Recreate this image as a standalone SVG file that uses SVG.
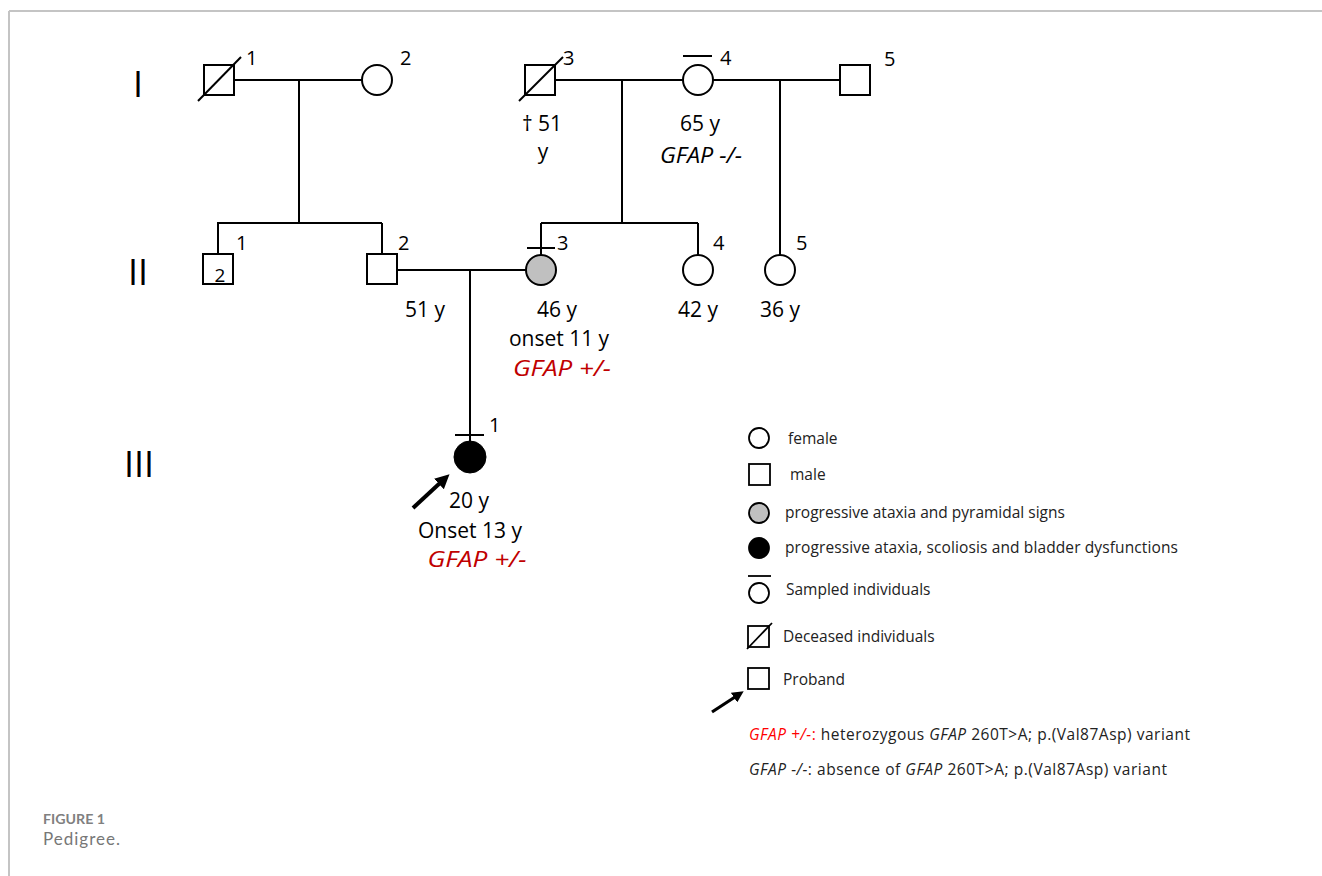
<svg xmlns="http://www.w3.org/2000/svg" width="1322" height="876" viewBox="0 0 1322 876">
<style>
  .ln{stroke:#000;stroke-width:2;fill:none}
  .sym{stroke:#000;stroke-width:2;fill:#fff}
  .t{font-family:"Open Sans","Noto Sans","Liberation Sans",sans-serif;fill:#000}
  .ped{font-size:21px;text-anchor:middle}
  .num{font-size:20px}
  .gen{font-size:36px;text-anchor:middle}
  .leg{font-size:15.5px;fill:#222}
  .it{font-style:italic}
  .red{fill:#c00000}
  .lred{fill:#ff0000}
</style>
<defs>
  <marker id="ah" viewBox="0 0 10 10" refX="1" refY="5" markerWidth="3.6" markerHeight="3.6" orient="auto" markerUnits="strokeWidth">
    <path d="M0,0 L10,5 L0,10 z" fill="#000"/>
  </marker>
</defs>
<rect x="0" y="0" width="1322" height="876" fill="#fff"/>
<g id="frame">
  <line x1="9" y1="11" x2="1322" y2="11" stroke="#c4c4c4" stroke-width="2"/>
  <line x1="9" y1="11" x2="9" y2="876" stroke="#c4c4c4" stroke-width="2"/>
</g>

<g id="generation-labels" class="t">
  <text class="t gen" x="138" y="97">I</text>
  <text class="t gen" x="138" y="285">II</text>
  <text class="t gen" x="139" y="477">III</text>
</g>

<g id="connectors">
  <path class="ln" d="M234,80 H362"/>
  <path class="ln" d="M299,80 V223"/>
  <path class="ln" d="M217,223 H382 M218,223 V254 M382,223 V254"/>
  <path class="ln" d="M555,80 H683"/>
  <path class="ln" d="M622,80 V223"/>
  <path class="ln" d="M541,223 H698 M541,223 V255 M698,223 V255"/>
  <path class="ln" d="M713,80 H840"/>
  <path class="ln" d="M780,80 V255"/>
  <path class="ln" d="M397,270 H526"/>
  <path class="ln" d="M470,270 V441"/>
</g>

<g id="I-1">
  <rect class="sym" x="204" y="65" width="30" height="30"/>
  <line class="ln" x1="198" y1="101" x2="241" y2="57"/>
  <text class="t num" x="246" y="65">1</text>
</g>
<g id="I-2">
  <circle class="sym" cx="377" cy="80" r="15"/>
  <text class="t num" x="400" y="65">2</text>
</g>
<g id="I-3">
  <rect class="sym" x="525" y="65" width="30" height="30"/>
  <line class="ln" x1="519" y1="101" x2="563" y2="57"/>
  <text class="t num" x="563" y="65">3</text>
  <text class="t ped" x="542" y="131">† 51</text>
  <text class="t ped" x="543" y="159">y</text>
</g>
<g id="I-4">
  <circle class="sym" cx="698" cy="80" r="15"/>
  <line class="ln" x1="683" y1="56" x2="712" y2="56"/>
  <text class="t num" x="720" y="65">4</text>
  <text class="t ped" x="700" y="131">65 y</text>
  <text class="t ped it" x="701" y="163" textLength="82" lengthAdjust="spacingAndGlyphs">GFAP -/-</text>
</g>
<g id="I-5">
  <rect class="sym" x="840" y="65" width="30" height="30"/>
  <text class="t num" x="884" y="66">5</text>
</g>

<g id="II-1">
  <rect class="sym" x="203" y="254" width="30" height="30"/>
  <text class="t" x="220" y="282" font-size="19" text-anchor="middle">2</text>
  <text class="t num" x="236" y="250">1</text>
</g>
<g id="II-2">
  <rect class="sym" x="367" y="254" width="30" height="30"/>
  <text class="t num" x="398" y="250">2</text>
  <text class="t ped" x="425" y="317">51 y</text>
</g>
<g id="II-3">
  <circle class="sym" cx="541" cy="270" r="15" style="fill:#c0c0c0"/>
  <line class="ln" x1="527" y1="248" x2="555" y2="248"/>
  <text class="t num" x="557" y="250">3</text>
  <text class="t ped" x="557" y="317">46 y</text>
  <text class="t ped" x="559" y="346">onset 11 y</text>
  <text class="t ped it red" x="562" y="376" textLength="98" lengthAdjust="spacingAndGlyphs">GFAP +/-</text>
</g>
<g id="II-4">
  <circle class="sym" cx="698" cy="270" r="15"/>
  <text class="t num" x="713" y="250">4</text>
  <text class="t ped" x="698" y="317">42 y</text>
</g>
<g id="II-5">
  <circle class="sym" cx="780" cy="270" r="15"/>
  <text class="t num" x="796" y="250">5</text>
  <text class="t ped" x="780" y="317">36 y</text>
</g>

<g id="III-1">
  <circle cx="470" cy="457" r="16" fill="#000" stroke="#000" stroke-width="1"/>
  <line class="ln" x1="455" y1="435" x2="484" y2="435"/>
  <text class="t num" x="489" y="432">1</text>
  <line x1="413" y1="508" x2="440" y2="483" stroke="#000" stroke-width="4" marker-end="url(#ah)"/>
  <text class="t ped" x="469" y="508">20 y</text>
  <text class="t ped" x="470" y="538">Onset 13 y</text>
  <text class="t ped it red" x="477" y="567" textLength="99" lengthAdjust="spacingAndGlyphs">GFAP +/-</text>
</g>

<g id="legend">
  <circle cx="759" cy="438" r="10" fill="#fff" stroke="#000" stroke-width="1.8"/>
  <text class="t leg" x="788" y="444">female</text>

  <rect x="749" y="464" width="21" height="21" fill="#fff" stroke="#000" stroke-width="1.8"/>
  <text class="t leg" x="790" y="480">male</text>

  <circle cx="759" cy="513" r="10" fill="#c0c0c0" stroke="#000" stroke-width="1.8"/>
  <text class="t leg" x="785" y="518">progressive ataxia and pyramidal signs</text>

  <circle cx="759" cy="548" r="10" fill="#000" stroke="#000" stroke-width="1.8"/>
  <text class="t leg" x="785" y="553" textLength="393">progressive ataxia, scoliosis and bladder dysfunctions</text>

  <line x1="748" y1="576" x2="771" y2="576" stroke="#000" stroke-width="1.8"/>
  <circle cx="759" cy="593" r="10" fill="#fff" stroke="#000" stroke-width="1.8"/>
  <text class="t leg" x="786" y="595">Sampled individuals</text>

  <rect x="748" y="626" width="21" height="21" fill="#fff" stroke="#000" stroke-width="1.8"/>
  <line x1="747" y1="649" x2="772" y2="623" stroke="#000" stroke-width="1.8"/>
  <text class="t leg" x="783" y="642">Deceased individuals</text>

  <rect x="748" y="668" width="21" height="21" fill="#fff" stroke="#000" stroke-width="1.8"/>
  <line x1="712" y1="712" x2="735" y2="697" stroke="#000" stroke-width="3.2" marker-end="url(#ah)"/>
  <text class="t leg" x="783" y="685">Proband</text>

  <text class="t leg" x="749" y="740" textLength="441"><tspan class="it lred">GFAP +/-</tspan><tspan class="lred">:</tspan> heterozygous <tspan class="it">GFAP</tspan> 260T&gt;A; p.(Val87Asp) variant</text>
  <text class="t leg" x="749" y="775" textLength="418"><tspan class="it">GFAP -/-</tspan>: absence of <tspan class="it">GFAP</tspan> 260T&gt;A; p.(Val87Asp) variant</text>
</g>

<g id="caption">
  <text x="43" y="824" font-family="Lato,'Open Sans',sans-serif" font-size="12.5" font-weight="bold" fill="#808080" textLength="62" lengthAdjust="spacingAndGlyphs">FIGURE 1</text>
  <text x="43" y="845" font-family="Lato,'Open Sans',sans-serif" font-size="17" fill="#777777" textLength="77">Pedigree.</text>
</g>
</svg>
